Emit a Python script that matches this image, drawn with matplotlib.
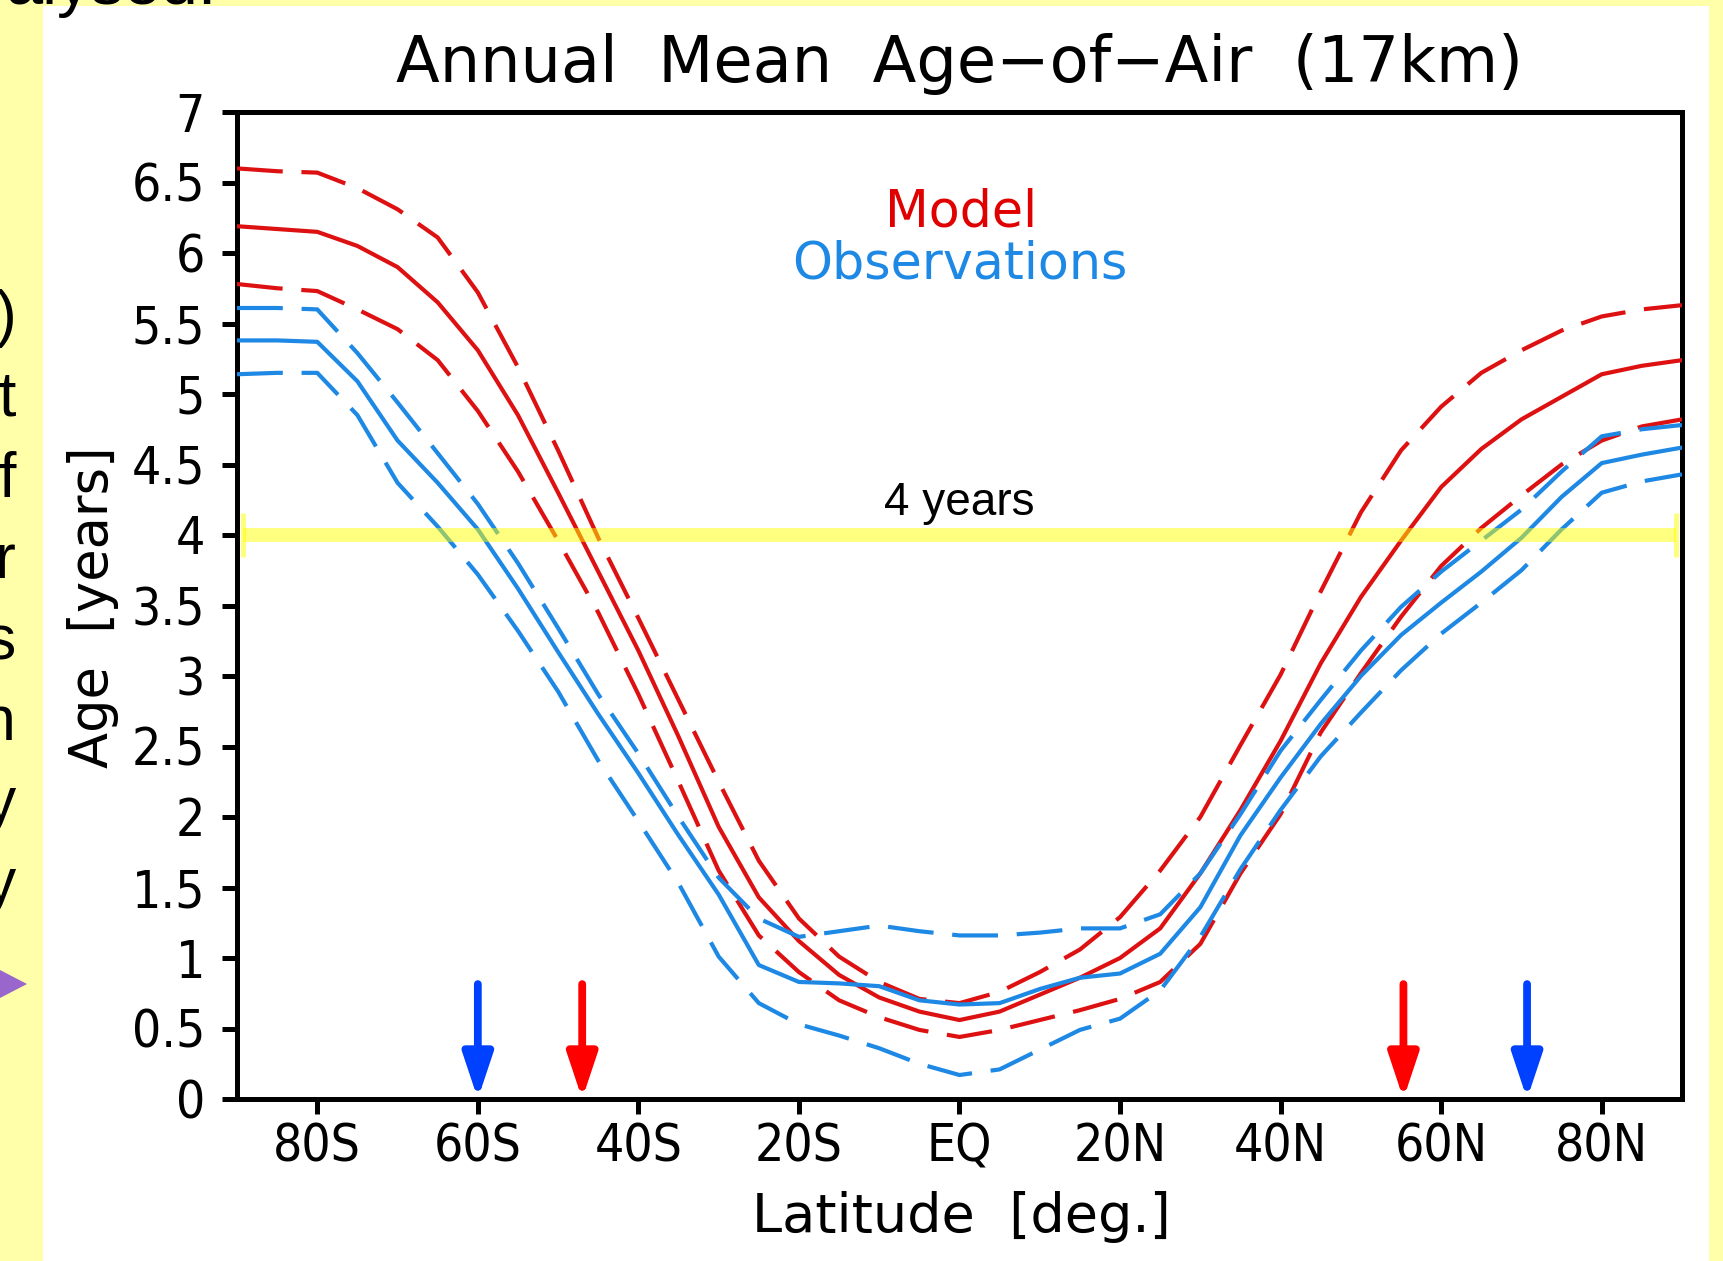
import matplotlib

matplotlib.use("Agg")
import matplotlib.pyplot as plt
from matplotlib.patches import Rectangle, Polygon

# latitude grid (deg, S negative)
lat = [-90, -85, -80, -75, -70, -65, -60, -55, -50, -45, -40, -35, -30, -25, -20, -15, -10, -5, 0,
       5, 10, 15, 20, 25, 30, 35, 40, 45, 50, 55, 60, 65, 70, 75, 80, 85, 90]

# model age-of-air (years): mean and upper / lower bounds
model_mean = [6.19, 6.17, 6.15, 6.05, 5.90, 5.65, 5.31, 4.85, 4.30, 3.74, 3.18, 2.57, 1.93, 1.43, 1.12, 0.88,
              0.72, 0.62, 0.56, 0.62, 0.74, 0.86, 1.00, 1.21, 1.60, 2.05, 2.54, 3.09, 3.56, 3.96, 4.34, 4.61,
              4.82, 4.98, 5.14, 5.20, 5.24]
model_hi = [6.60, 6.58, 6.57, 6.46, 6.31, 6.11, 5.72, 5.19, 4.60, 3.98, 3.41, 2.83, 2.25, 1.69, 1.28, 1.01,
            0.83, 0.71, 0.68, 0.76, 0.90, 1.06, 1.29, 1.62, 2.00, 2.51, 3.01, 3.60, 4.16, 4.60, 4.91, 5.15,
            5.31, 5.45, 5.55, 5.60, 5.63]
model_lo = [5.78, 5.75, 5.73, 5.60, 5.46, 5.24, 4.88, 4.45, 3.96, 3.45, 2.87, 2.25, 1.62, 1.16, 0.90, 0.70,
            0.58, 0.49, 0.44, 0.49, 0.56, 0.63, 0.71, 0.83, 1.10, 1.60, 2.02, 2.60, 3.02, 3.42, 3.78, 4.05,
            4.28, 4.50, 4.67, 4.77, 4.82]

# observations: mean and upper / lower bounds
obs_mean = [5.38, 5.38, 5.37, 5.09, 4.67, 4.37, 4.04, 3.62, 3.17, 2.73, 2.31, 1.87, 1.45, 0.95, 0.83, 0.82,
            0.80, 0.70, 0.67, 0.68, 0.78, 0.86, 0.89, 1.03, 1.36, 1.87, 2.28, 2.66, 3.00, 3.29, 3.52, 3.74,
            3.98, 4.27, 4.51, 4.57, 4.62]
obs_hi = [5.61, 5.61, 5.60, 5.29, 4.94, 4.58, 4.22, 3.80, 3.34, 2.87, 2.45, 2.00, 1.57, 1.28, 1.15, 1.19,
          1.23, 1.19, 1.16, 1.16, 1.18, 1.21, 1.21, 1.31, 1.60, 2.02, 2.47, 2.83, 3.18, 3.49, 3.74, 3.96,
          4.18, 4.45, 4.70, 4.75, 4.78]
obs_lo = [5.14, 5.15, 5.15, 4.85, 4.37, 4.06, 3.72, 3.32, 2.89, 2.40, 1.97, 1.53, 1.01, 0.68, 0.53, 0.45,
          0.36, 0.25, 0.17, 0.21, 0.35, 0.49, 0.57, 0.77, 1.15, 1.63, 2.05, 2.43, 2.74, 3.04, 3.30, 3.52,
          3.75, 4.04, 4.30, 4.38, 4.43]

# arrows marking where each mean crosses 4 years
arrow_lat = [-60.0, -47.0, 55.3, 70.7]
arrow_col = ["#0040ff", "#ff0000", "#ff0000", "#0040ff"]

xticks = [-80, -60, -40, -20, 0, 20, 40, 60, 80]
xticklabels = ["80S", "60S", "40S", "20S", "EQ", "20N", "40N", "60N", "80N"]
yticks = [0, 0.5, 1, 1.5, 2, 2.5, 3, 3.5, 4, 4.5, 5, 5.5, 6, 6.5, 7]
yticklabels = ["0", "0.5", "1", "1.5", "2", "2.5", "3", "3.5", "4", "4.5", "5", "5.5", "6", "6.5", "7"]

side_chars = [")", "t", "f", "r", "s", "n", "y", "y"]

W, H = 1724, 1261
RED = "#dd1111"
BLUE = "#1e88e5"
GRADS = dict(family="DejaVu Sans")


def fx(px):
    return px / W


def fy(py):
    return 1 - py / H


fig = plt.figure(figsize=(W / 100, H / 100), dpi=100)
fig.patch.set_facecolor("#ffffaa")

# slide background: white panel, cut-off slide text on the left
fig.add_artist(Rectangle((fx(43), 0), fx(1709) - fx(43), fy(6), transform=fig.transFigure,
                         facecolor="white", edgecolor="none", zorder=0))
fig.text(fx(5), fy(4), "alysed:", family="Liberation Sans", fontsize=48, va="baseline", ha="left")
for i, ch in enumerate(side_chars):
    fig.text(fx(16), fy(335 + 81 * i), ch, family="Liberation Sans", fontsize=45,
             ha="right", va="baseline")
fig.add_artist(Polygon([(fx(0), fy(970)), (fx(27), fy(984)), (fx(0), fy(998))], closed=True,
                       transform=fig.transFigure, facecolor="#9966cc", edgecolor="none"))

ax = fig.add_axes([fx(237), fy(1099), fx(1682) - fx(237), fy(112) - fy(1099)])
ax.set_facecolor("white")

dash = (0, (11, 4.5))
ax.plot(lat, model_hi, color=RED, lw=3, ls=dash, zorder=3)
ax.plot(lat, model_lo, color=RED, lw=3, ls=dash, zorder=3)
ax.plot(lat, model_mean, color=RED, lw=3, zorder=3)
ax.plot(lat, obs_hi, color=BLUE, lw=3, ls=dash, zorder=4)
ax.plot(lat, obs_lo, color=BLUE, lw=3, ls=dash, zorder=4)
ax.plot(lat, obs_mean, color=BLUE, lw=3, zorder=4)

# 4-year reference bar (translucent yellow, drawn over the curves)
ax.plot([-89.2, 89.2], [4, 4], color="yellow", alpha=0.5, lw=10, solid_capstyle="butt", zorder=6)
ax.plot([-89.2, 89.2], [4, 4], ls="none", marker="|", ms=32, mew=3.6, color="yellow", alpha=0.5,
        zorder=6)
ax.text(0, 4.14, "4 years", family="Liberation Sans", fontsize=33, ha="center", va="baseline",
        zorder=7)

for x, c in zip(arrow_lat, arrow_col):
    ax.annotate("", xy=(x, 0.0), xytext=(x, 0.815),
                arrowprops=dict(arrowstyle="-|>,head_length=2.7,head_width=0.9", mutation_scale=10,
                                lw=5.6, color=c, shrinkA=0, shrinkB=0), zorder=5)

ax.text(0.2, 6.19, "Model", color="#e00000", fontsize=36.5, ha="center", va="baseline", **GRADS)
ax.text(0, 5.82, "Observations", color=BLUE, fontsize=36.5, ha="center", va="baseline", **GRADS)

ax.set_xlim(-90, 90)
ax.set_ylim(0, 7)
ax.set_xticks(xticks)
ax.set_xticklabels(xticklabels, fontstretch="condensed", **GRADS)
ax.set_yticks(yticks)
ax.set_yticklabels(yticklabels, fontstretch="condensed", **GRADS)
ax.tick_params(axis="both", direction="out", length=11, width=3.6, labelsize=37)
ax.tick_params(axis="y", pad=12)
ax.tick_params(axis="x", pad=6)
for s in ax.spines.values():
    s.set_linewidth(3.6)

fig.text(fx(959), fy(82), "Annual  Mean  Age\u2212of\u2212Air  (17km)", fontsize=46, ha="center",
         va="baseline", **GRADS)
fig.text(fx(961), fy(1217), "Latitude  [deg.]", fontsize=39, ha="center", va="center", **GRADS)
fig.text(fx(93), fy(607), "Age  [years]", fontsize=38, rotation=90, ha="center", va="center", **GRADS)

fig.savefig("out.png", dpi=100, facecolor=fig.get_facecolor())
